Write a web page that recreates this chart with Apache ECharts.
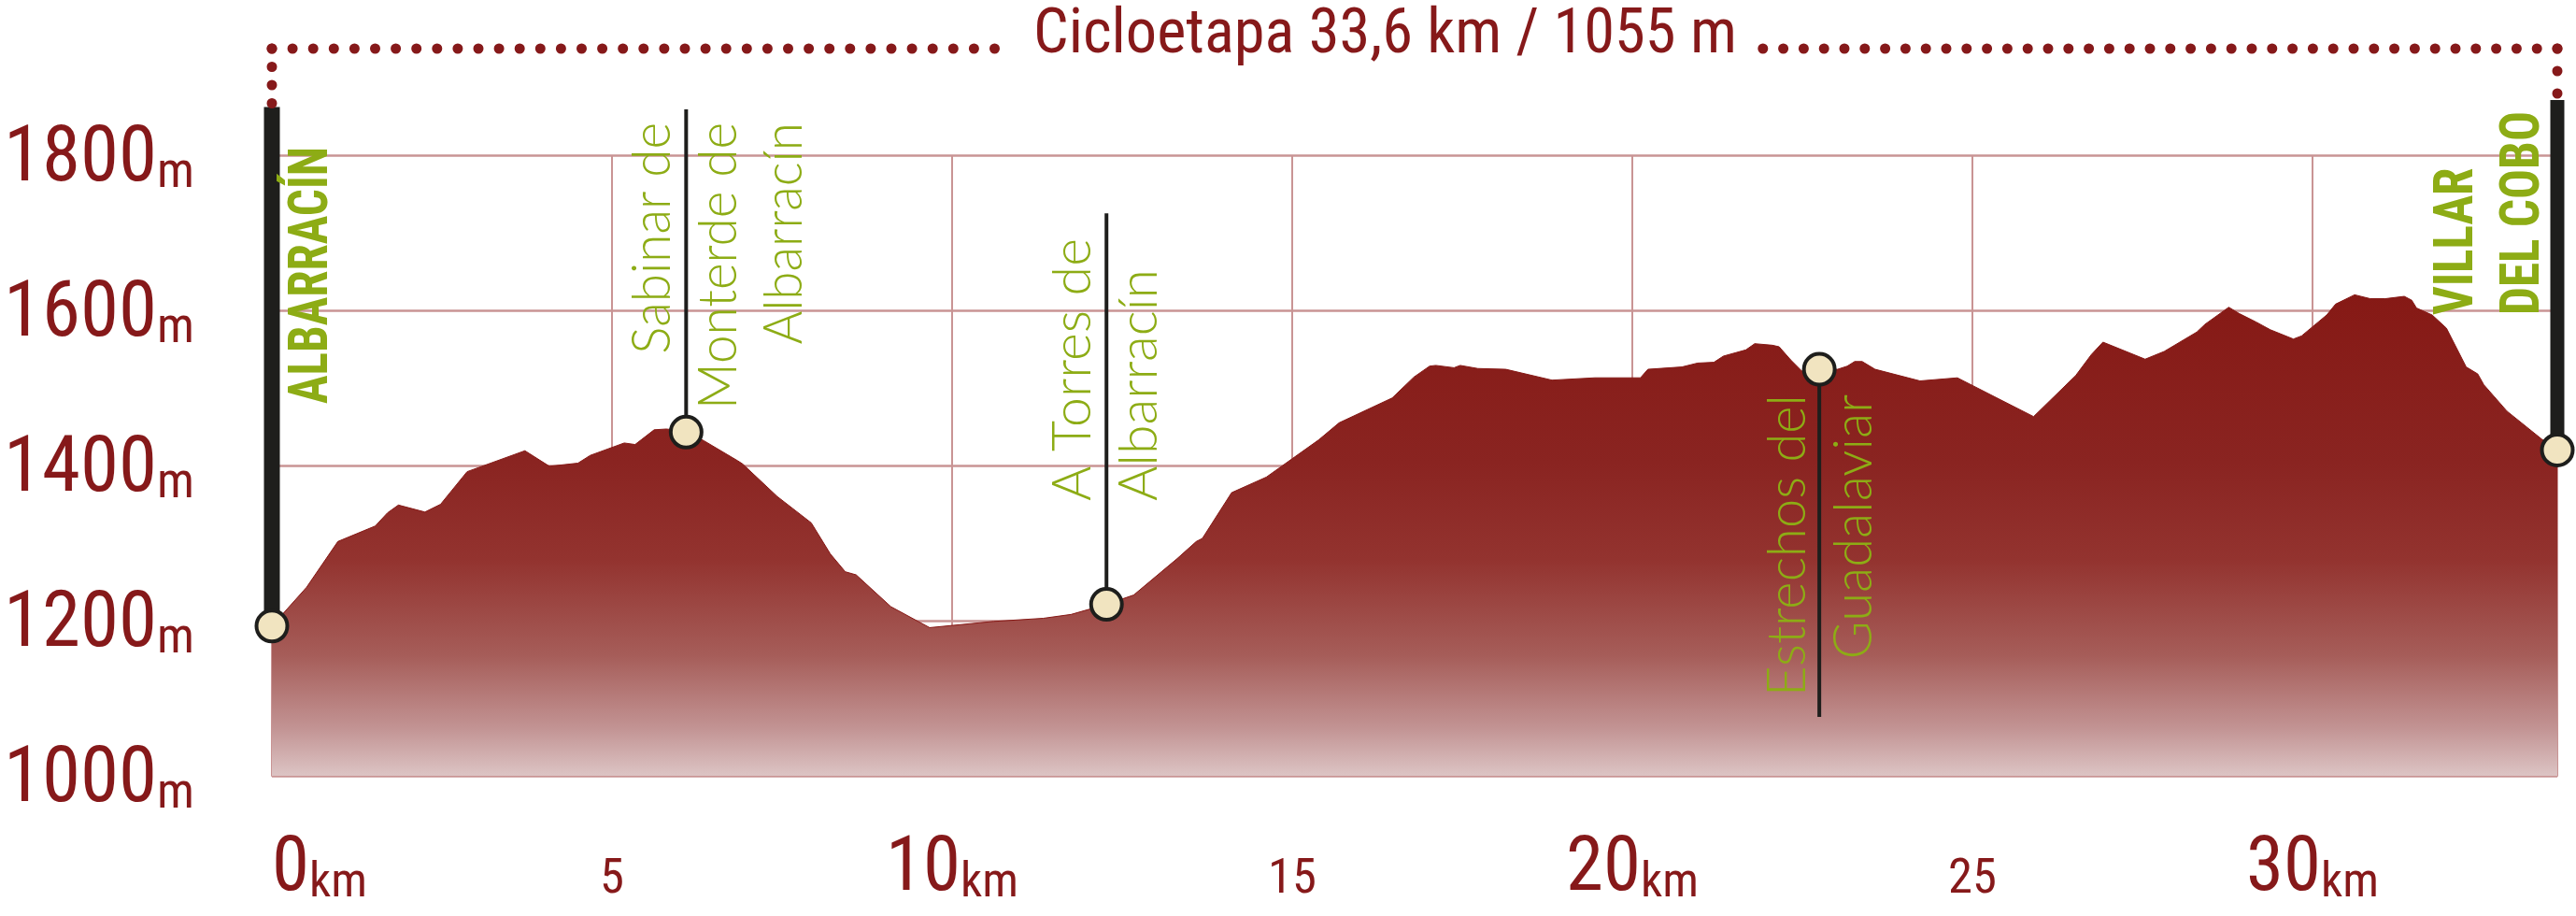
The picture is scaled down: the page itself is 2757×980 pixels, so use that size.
<!DOCTYPE html>
<html><head><meta charset="utf-8">
<script src="https://cdn.jsdelivr.net/npm/echarts@6/dist/echarts.min.js"></script>
<style>html,body{margin:0;padding:0;background:#fff}#c{width:2757px;height:980px}</style>
</head><body><div id="c"></div>
<script>
// ---- data ----
const kmPts = [0,0.51,0.97,1.52,1.70,1.86,2.25,2.48,2.87,3.72,4.08,4.50,4.68,5.18,5.34,5.62,5.80,6.09,6.35,6.85,6.92,7.43,7.93,8.21,8.43,8.59,9.10,9.67,10.61,11.34,11.75,12.27,12.67,13.31,13.59,13.68,14.11,14.62,15.39,15.69,16.47,16.79,17.02,17.11,17.38,17.47,17.73,18.14,18.82,19.45,20.12,20.23,20.73,20.96,21.20,21.34,21.67,21.80,22.06,22.16,22.33,22.49,22.75,23.02,23.16,23.27,23.38,23.57,24.23,24.78,25.90,26.52,26.75,26.92,27.54,27.82,28.30,28.42,28.77,28.92,29.17,29.38,29.72,29.84,30.21,30.34,30.62,30.85,31.07,31.35,31.46,31.53,31.76,31.97,32.26,32.43,32.52,32.86,33.37,33.60];
const elevPts = [1193,1243,1302,1322,1339,1349,1340,1350,1392,1419,1399,1403,1413,1429,1427,1446,1447,1444,1432,1406,1402,1360,1326,1286,1263,1259,1218,1191,1199,1203,1208,1221,1233,1280,1302,1306,1365,1385,1433,1455,1487,1514,1528,1529,1526,1529,1525,1524,1510,1513,1513,1524,1527,1532,1533,1541,1549,1557,1555,1553,1536,1522,1524,1524,1528,1534,1534,1524,1509,1513,1463,1516,1543,1559,1537,1547,1572,1582,1604,1596,1585,1575,1563,1567,1594,1608,1620,1615,1615,1618,1613,1603,1594,1577,1527,1518,1504,1470,1434,1420];

const wpNames = ['ALBARRACÍN', 'Sabinar de\nMonterde de\nAlbarracín', 'A Torres de\nAlbarracín', 'Estrechos del\nGuadalaviar', 'VILLAR\nDEL COBO'];
const wpKm = [0, 6.09, 12.27, 22.75, 33.6];
const wpElev = [1193, 1443, 1221, 1524, 1420];
const poleEnd = [1862, 1859, 1725, 1076, 1871];

const xTicks = [0, 5, 10, 15, 20, 25, 30];
const xMajor = [0, 10, 20, 30];
const yTicks = [1000, 1200, 1400, 1600, 1800];
const titleText = 'Cicloetapa 33,6 km / 1055 m';
const totalKm = 33.6;

// ---- styles ----
const RED = '#86191a';
const GREEN = '#8dac15';
const GRIDC = '#c99494';

// pick a condensed sans face if one is installed
const mctx = document.createElement('canvas').getContext('2d');
function mw(font, txt) { mctx.font = font; return mctx.measureText(txt).width; }
const S = titleText + ' ALBARRACÍN mwil';
function exists(fam) {
  return mw('100px ' + fam + ', monospace', S) !== mw('100px monospace', S) ||
         mw('100px ' + fam + ', serif', S) !== mw('100px serif', S);
}
const cands = [
  ['', '"Liberation Sans Narrow"'],
  ['', '"Roboto Condensed"'],
  ['condensed', 'Roboto'],
  ['', '"Noto Sans Condensed"'],
  ['condensed', '"Noto Sans"'],
  ['', '"Open Sans Condensed"'],
  ['condensed', '"Open Sans"'],
  ['', '"DejaVu Sans Condensed"'],
  ['condensed', '"DejaVu Sans"']
];
let COND = {st: '', fam: '"Liberation Sans", sans-serif'};
for (const [st, fam] of cands) {
  if (!exists(fam)) continue;
  if (st) {
    const wc = mw(st + ' 100px ' + fam + ', monospace', S);
    const wn = mw('100px ' + fam + ', monospace', S);
    if (wc < wn * 0.93) { COND = {st, fam: fam + ', sans-serif'}; break; }
  } else { COND = {st, fam: fam + ', sans-serif'}; break; }
}
const wStr = w => [w === 'normal' && COND.st ? '' : w, COND.st].filter(Boolean).join(' ') || 'normal';
const fontStr = (w, fs) => wStr(w) + ' ' + fs + 'px ' + COND.fam;
const fit = (txt, w, target, ref) => ref * target / mw(fontStr(w, ref), txt);

// sizes fitted to the reference's text widths
const TITLE_FS = fit(titleText, 'normal', 753, 72);
const YB = fit('1800', 'normal', 164, 86);
const YU = fit('m', 'normal', 40, 60);
const XB = fit('10', 'normal', 80, 88);
const XU = fit('km', 'normal', 62, 50);
const XS = fit('15', 'normal', 52, 56);
const K = 0.345; // middle-to-baseline factor

// label layout: offset of block centre from pole (px), end y (px), alignment, weight, target length
const labelLayout = [
  {dx: 43.5, y: 432, align: 'left', bold: true, target: 275, line: 'ALBARRACÍN'},
  {dx: 35, y: 131, align: 'right', bold: false, target: 307, line: 'Monterde de'},
  {dx: 0, y: 536, align: 'left', bold: false, target: 281, line: 'A Torres de'},
  {dx: 2, y: 422, align: 'right', bold: false, target: 323, line: 'Estrechos del'},
  {dx: -70.5, y: 337, align: 'left', bold: true, target: 218, line: 'DEL COBO'}
];
const poleWidth = [17, 4, 4, 4, 15];

const chart = echarts.init(document.getElementById('c'), null, {renderer: 'canvas'});

const profile = kmPts.map((k, i) => [k, elevPts[i]]);

const series = [{
  type: 'line',
  data: profile,
  showSymbol: false,
  silent: true,
  z: 2,
  lineStyle: {width: 1, color: '#861916'},
  areaStyle: {
    origin: 'start',
    opacity: 1,
    color: new echarts.graphic.LinearGradient(0, 0, 0, 1, [
      {offset: 0, color: '#861915'},
      {offset: 0.35, color: '#8a2421'},
      {offset: 0.55, color: '#93332f'},
      {offset: 0.75, color: '#a65d59'},
      {offset: 0.9, color: '#c29393'},
      {offset: 1, color: '#dcc4c4'}
    ])
  }
}];

wpKm.forEach((k, i) => {
  series.push({
    type: 'line',
    data: [[k, wpElev[i]], [k, poleEnd[i]]],
    showSymbol: false,
    silent: true,
    clip: false,
    z: 5,
    lineStyle: {width: poleWidth[i], color: '#1e1e1c', cap: 'butt'}
  });
});

series.push({
  type: 'scatter',
  data: wpKm.map((k, i) => [k, wpElev[i]]),
  symbol: 'circle',
  symbolSize: 33,
  clip: false,
  silent: true,
  z: 8,
  itemStyle: {color: '#f1e4c0', borderColor: '#1e1e1c', borderWidth: 4, opacity: 1}
});

const txt = (fs, lh, extra) => Object.assign({fontFamily: COND.fam, fontWeight: wStr('normal'), fontSize: fs, lineHeight: lh, color: RED}, extra || {});

chart.setOption({
  animation: false,
  backgroundColor: '#fff',
  title: {
    text: titleText,
    left: 1106, top: 62 - (0.5 + K) * TITLE_FS, padding: 0,
    textStyle: {fontFamily: COND.fam, fontSize: TITLE_FS, lineHeight: TITLE_FS, fontWeight: wStr('normal'), color: RED}
  },
  grid: {left: 291, right: 20, top: 166, bottom: 150, containLabel: false},
  xAxis: {
    type: 'value', min: 0, max: totalKm, interval: 5,
    axisLine: {show: true, lineStyle: {color: GRIDC, width: 2}},
    axisTick: {show: false},
    splitLine: {show: true, lineStyle: {color: GRIDC, width: 2}},
    axisLabel: {
      margin: 130 - (0.5 + K) * XB,
      showMaxLabel: false,
      alignMinLabel: 'left',
      formatter: v => {
        if (xTicks.indexOf(v) < 0) return '';
        if (xMajor.indexOf(v) >= 0) return '{big|' + v + '}{unit|km}';
        return '{small|' + v + '}';
      },
      rich: {
        big: txt(XB, XB, {verticalAlign: 'bottom'}),
        unit: txt(XU, 2 * ((0.5 - K) * XB + K * XU), {verticalAlign: 'bottom'}),
        small: txt(XS, 2 * ((0.5 + K) * XB - K * XS))
      }
    }
  },
  yAxis: {
    type: 'value', min: 1000, max: 1800, interval: 200,
    axisLine: {show: false},
    axisTick: {show: false},
    splitLine: {show: true, lineStyle: {color: GRIDC, width: 2.5}},
    axisLabel: {
      align: 'left',
      margin: 287,
      padding: [12, 0, 0, 0],
      formatter: v => yTicks.indexOf(v) >= 0 ? '{big|' + v + '}{unit|m}' : '',
      rich: {
        big: txt(YB, YB, {verticalAlign: 'bottom'}),
        unit: txt(YU, 2 * ((0.5 - K) * YB + K * YU), {verticalAlign: 'bottom'})
      }
    }
  },
  series: series
});

// ---- decorations positioned through the chart's own scales ----
const px = (k, e) => chart.convertToPixel({gridIndex: 0}, [k, e]);
const graphics = [];
const LIGHT = '300 57px Lato, "Open Sans", sans-serif';

wpNames.forEach((name, i) => {
  const L = labelLayout[i];
  const p = px(wpKm[i], wpElev[i]);
  const font = L.bold ? fontStr('bold', 60) : LIGHT;
  const sx = L.target / mw(font, L.line);
  graphics.push({
    type: 'text',
    x: p[0] + L.dx,
    y: L.y,
    rotation: Math.PI / 2,
    scaleX: sx,
    z: 20,
    silent: true,
    style: {
      text: name,
      fill: GREEN,
      font: font,
      align: L.align, textAlign: L.align,
      verticalAlign: 'middle', textVerticalAlign: 'middle',
      lineHeight: 70.5
    }
  });
});

const yDots = 52;
const leftTop = px(0, poleEnd[0]);
const rightTop = px(totalKm, poleEnd[4]);
const dotStyle = sp => ({stroke: RED, lineWidth: 11, lineDash: [0, sp], lineCap: 'round', fill: null});
graphics.push({type: 'polyline', silent: true, z: 20, shape: {points: [[leftTop[0], yDots], [1086, yDots]]}, style: dotStyle(22.1)});
graphics.push({type: 'polyline', silent: true, z: 20, shape: {points: [[leftTop[0], yDots], [leftTop[0], leftTop[1] - 4]]}, style: dotStyle(19.5)});
graphics.push({type: 'polyline', silent: true, z: 20, shape: {points: [[rightTop[0], yDots], [1886, yDots]]}, style: dotStyle(21.8)});
graphics.push({type: 'polyline', silent: true, z: 20, shape: {points: [[rightTop[0], yDots], [rightTop[0], rightTop[1] - 4]]}, style: dotStyle(24)});

chart.setOption({graphic: {elements: graphics}});
</script>
</body></html>
